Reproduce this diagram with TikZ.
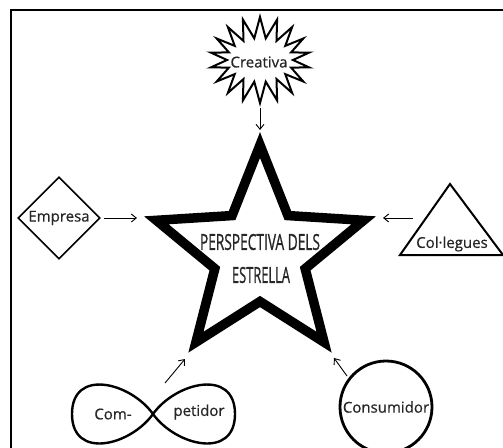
\documentclass[tikz,border=0pt]{standalone}
\usepackage{fontspec}
\setmainfont{Open Sans}
\newfontfamily\labelfont{Open Sans}[FakeBold=0.6]
\newfontfamily\titlefont{Open Sans}[FakeBold=1.2]
\usepackage{graphicx}
\usetikzlibrary{arrows.meta,shapes.geometric}
\begin{document}
\begin{tikzpicture}[x=1pt,y=-1pt,
  link/.style={-{Straight Barb[length=5pt,width=8pt]}, line width=0.9pt},
  lbl/.style={font=\labelfont\fontsize{15}{17}\selectfont, text=black!85, inner sep=0pt},
  ttl/.style={font=\titlefont, text=black!85, inner sep=0pt},
]
\useasboundingbox (0,0) rectangle (503,447);

% outer frame (only its top and left sides fall inside the page)
\draw[line width=2.4pt] (11,470) -- (11,10) -- (530,10);

% central five-pointed star
\begin{scope}[shift={(260,254)}]
  \draw[line width=9.5pt, line join=miter]
    (270:109) -- (306:47.5) -- (342:109) -- (18:47.5) -- (54:109) --
    (90:47.5) -- (126:109) -- (162:47.5) -- (198:109) -- (234:47.5) -- cycle;
  \node (centre) at (0,0) {};
\end{scope}
\node[ttl] (title1) at (260,242) {\resizebox{120pt}{16pt}{PERSPECTIVA DELS}};
\node[ttl] (title2) at (261,275) {\resizebox{58pt}{16pt}{ESTRELLA}};

% arrow end points next to the star tips
\coordinate (tipTop)   at (260,130);
\coordinate (tipLeft)  at (137,218);
\coordinate (tipRight) at (383,218);
\coordinate (tipBL)    at (185,359);
\coordinate (tipBR)    at (334,358);

% Creativa: starburst
\begin{scope}[shift={(260,60)}]
  \draw[line width=2pt, line join=miter]
    (0:33 and 22)
    \foreach \i in {0,...,17} { -- ({10+\i*20}:50 and 43) -- ({20+\i*20}:33 and 22) } -- cycle;
\end{scope}
\node[lbl] (creativa) at (259,62) {Creativa};
\coordinate (creativaOut) at (260,108);

% Empresa: diamond
\node[lbl, draw, diamond, aspect=1, minimum width=82pt, minimum height=82pt,
      line width=1.6pt] (empresa) at (59,218) {Empresa};
\coordinate (empresaOut) at (104,218);

% Col·legues: triangle
\coordinate (triTop) at (450,184);
\coordinate (triL) at (400,255);
\coordinate (triR) at (503,255);
\draw[line width=2pt, line join=miter] (triTop) -- (triL) -- (triR) -- cycle;
\node[lbl] (collegues) at (452,244) {Col·legues};
\coordinate (colleguesOut) at (413,218);

% Com-petidor: infinity loop
\coordinate (cross) at (153,414);
\draw[line width=2.4pt]
  (cross) .. controls (176,382) and (235,368) .. (235,414)
          .. controls (235,460) and (176,446) .. (cross)
          .. controls (130,382) and (72,368) .. (72,414)
          .. controls (72,460) and (130,446) .. (cross);
\node[lbl] (com) at (113,414) {Com-};
\node[lbl] (petidor) at (199,412) {petidor};
\coordinate (competidorOut) at (165,383);

% Consumidor: circle
\node[lbl, draw, circle, minimum size=92pt, line width=2.8pt] (consumidor) at (386,407) {Consumidor};
\coordinate (consumidorOut) at (347,376);

% connectors towards the star
\draw[link] (creativaOut) -- (tipTop);
\draw[link] (empresaOut) -- (tipLeft);
\draw[link] (colleguesOut) -- (tipRight);
\draw[link] (competidorOut) -- (tipBL);
\draw[link] (consumidorOut) -- (tipBR);
\end{tikzpicture}
\end{document}
